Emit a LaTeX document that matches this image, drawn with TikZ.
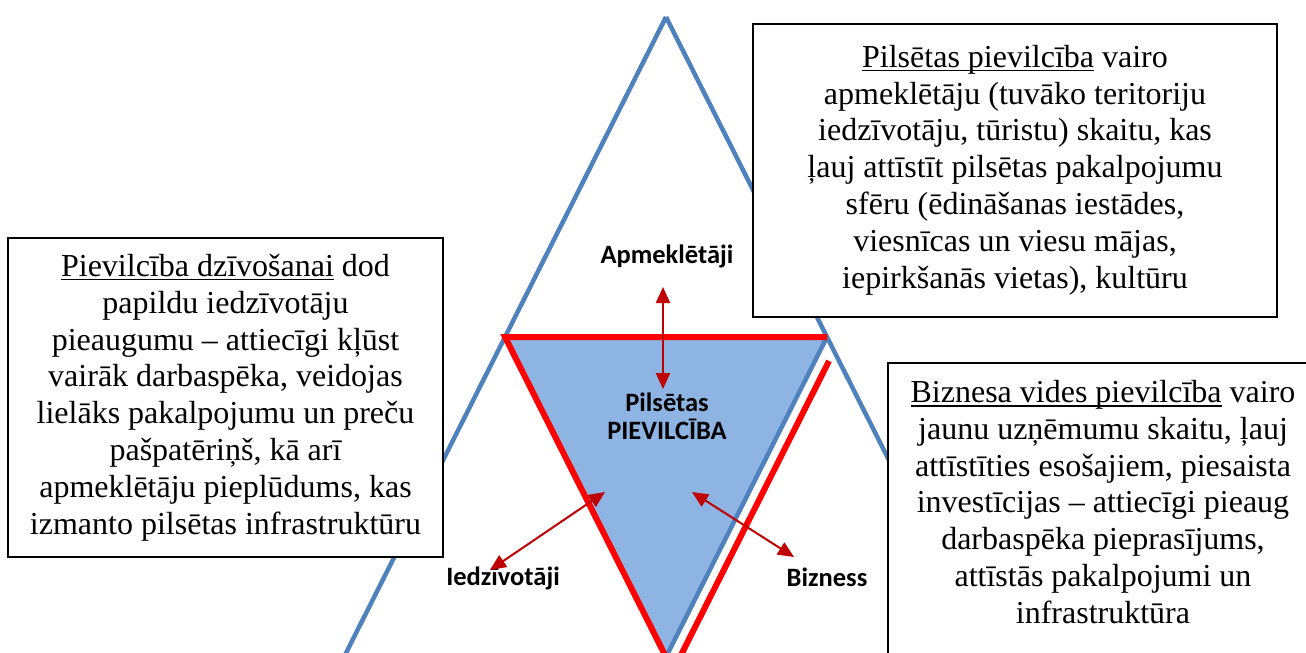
\documentclass[tikz,border=0pt]{standalone}
\usepackage{fontspec}
\setmainfont{Liberation Serif}
\newfontfamily\calibri{Carlito}
\usetikzlibrary{arrows.meta}
\definecolor{bline}{HTML}{4F81BD}
\definecolor{bfill}{HTML}{8EB4E3}
\definecolor{rline}{HTML}{FF0000}
\definecolor{darrow}{HTML}{C00000}
\newcommand\myul[1]{\setbox0\hbox{#1}\rlap{\rule[-4pt]{\wd0}{1.6pt}}\box0\relax}
\begin{document}
\begin{tikzpicture}[x=1pt,y=-1pt,
  blueln/.style={draw=bline,line width=4.5pt},
  redln/.style={draw=rline,line width=6pt},
  tbox/.style={draw=black,line width=2pt,fill=white,align=center,inner sep=0pt,font=\fontsize{32}{36.8}\selectfont},
  ttext/.style={align=center,inner sep=0pt,font=\fontsize{32}{36.8}\selectfont},
  lbl/.style={font=\calibri\bfseries\fontsize{26.5}{28}\selectfont,align=center,inner sep=0pt},
  dblarrow/.style={draw=darrow,line width=2pt,{Triangle[length=16pt,width=14pt]}-{Triangle[length=16pt,width=14pt]}}
]
\clip (0,0) rectangle (1306,653);
% geometry
\coordinate (A) at (666,17);
\coordinate (L) at (505,337);
\coordinate (R) at (827,337);
\coordinate (B) at (666,657);
\coordinate (LL) at (344,657);
\coordinate (RR) at (988,657);
\coordinate (P1) at (829,361);
\coordinate (P2) at (680,657);
% inner triangle
\fill[bfill] (L) -- (R) -- (B) -- cycle;
% blue lines
\draw[blueln] (A) -- (L) -- (LL);
\draw[blueln] (A) -- (R) -- (RR);
\draw[blueln] (L) -- (R);
\draw[blueln] (L) -- (B);
\draw[blueln] (R) -- (B);
% red lines
\draw[redln,line join=miter] (R) -- (L) -- (B);
\draw[redln] (P1) -- (P2);
% boxes
\node[tbox,minimum width=435pt,minimum height=319pt] (lbox) at (225.5,397.5)
  {\myul{Pievilcība dzīvošanai} dod\\ papildu iedzīvotāju\\ pieaugumu – attiecīgi kļūst\\ vairāk darbaspēka, veidojas\\ lielāks pakalpojumu un preču\\ pašpatēriņš, kā arī\\ apmeklētāju pieplūdums, kas\\ izmanto pilsētas infrastruktūru};
\node[tbox,minimum width=524pt,minimum height=293pt] (tbox1) at (1015,170)
  {\myul{Pilsētas pievilcība} vairo\\ apmeklētāju (tuvāko teritoriju\\ iedzīvotāju, tūristu) skaitu, kas\\ ļauj attīstīt pilsētas pakalpojumu\\ sfēru (ēdināšanas iestādes,\\ viesnīcas un viesu mājas,\\ iepirkšanās vietas), kultūru};
\node[tbox,minimum width=432pt,minimum height=330pt,anchor=north west] (rbox) at (887,362) {};
\node[ttext] (rtext) at (1103,502)
  {\myul{Biznesa vides pievilcība} vairo\\ jaunu uzņēmumu skaitu, ļauj\\ attīstīties esošajiem, piesaista\\ investīcijas – attiecīgi pieaug\\ darbaspēka pieprasījums,\\ attīstās pakalpojumi un\\ infrastruktūra};
% labels
\node[lbl] (apm) at (667,256) {Apmeklētāji};
\node[lbl] (centre) at (667,416) {Pilsētas\\PIEVILCĪBA};
\node[lbl] (iedz) at (503,578) {Iedzīvotāji};
\node[lbl] (bizn) at (827,577) {Bizness};
% arrows
\coordinate (av1) at (663,287);
\coordinate (av2) at (663,389);
\coordinate (al1) at (605,492);
\coordinate (al2) at (490,570);
\coordinate (ar1) at (692,492);
\coordinate (ar2) at (794,557);
\draw[dblarrow] (av1) -- (av2);
\draw[dblarrow] (al1) -- (al2);
\draw[dblarrow] (ar1) -- (ar2);
\end{tikzpicture}
\end{document}
